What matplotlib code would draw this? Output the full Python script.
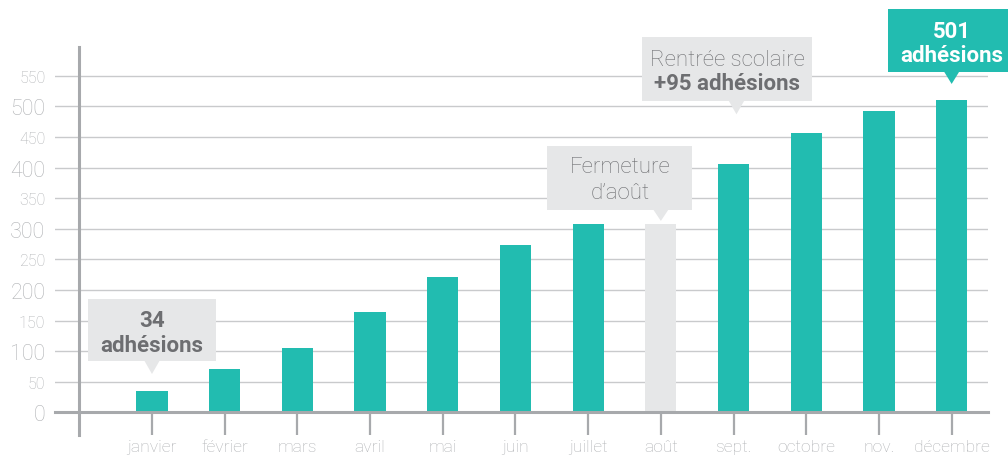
import numpy as np
import matplotlib.pyplot as plt
from matplotlib.patches import Rectangle, Polygon

# adhésions cumulées par mois
months = ['janvier', 'février', 'mars', 'avril', 'mai', 'juin', 'juillet',
          'août', 'sept.', 'octobre', 'nov.', 'décembre']
members = [34, 70, 105, 164, 221, 274, 307, 307, 405, 456, 493, 511]
closed_month = 'août'

yticks = [0, 50, 100, 150, 200, 250, 300, 350, 400, 450, 500, 550]

TEAL = '#22bcb0'
LIGHT = '#e6e7e8'
AXIS = '#a7a9ac'
GRID = '#c9cacc'
LABEL = '#b0b2b5'
DARK = '#6d6e71'

plt.rcParams['font.family'] = ['Roboto', 'DejaVu Sans']

fig = plt.figure(figsize=(10.08, 4.56), dpi=100)
W, H = 1008, 456
# axes: gauche 55 px, droite 988 px, y=0 a 413 px, haut a 48 px
ax = fig.add_axes([55 / W, (H - 413.3) / H, (988 - 55) / W, (413.3 - 48) / H])
ax.set_xlim(-1.334, 11.5)
ax.set_ylim(0, 597)

x = np.arange(len(months))
colors = [LIGHT if m == closed_month else TEAL for m in months]
ax.bar(x, members, width=0.43, color=colors, zorder=3)

# grille
ax.set_yticks(yticks)
ax.set_yticklabels([str(t) for t in yticks])
for t, lab in zip(yticks, ax.get_yticklabels()):
    lab.set_fontsize(15.5 if t % 100 == 0 else 11.5)
    lab.set_color(LABEL)
    lab.set_fontweight('light')
ax.tick_params(axis='y', length=0, pad=7)
ax.grid(axis='y', color=GRID, lw=1, zorder=0)

ax.set_xticks(x)
ax.set_xticklabels(months, fontsize=12.6, color=LABEL, fontweight='light')
ax.tick_params(axis='x', length=16.5, width=1.6, color=AXIS, pad=3)

for s in ax.spines.values():
    s.set_visible(False)

ax.axhline(0, color=AXIS, lw=2.2, zorder=4, clip_on=False)
ax.plot([-1, -1], [-37, 597], color=AXIS, lw=2.2, zorder=4, clip_on=False)

# conversion pixels -> unités de données
PX = (11.5 + 1.334) / (988 - 55)
PY = 597 / (413.3 - 48)


def callout(xc, y_apex, w, h, dx, fc, lines, gap=12):
    bottom = y_apex + gap * PY
    cx = xc + dx * PX
    ax.add_patch(Rectangle((cx - w / 2 * PX, bottom), w * PX, h * PY,
                           facecolor=fc, edgecolor='none', zorder=5, clip_on=False))
    ax.add_patch(Polygon([(xc - 8 * PX, bottom + 1 * PY), (xc + 8 * PX, bottom + 1 * PY),
                          (xc, y_apex)], closed=True, facecolor=fc,
                         edgecolor='none', zorder=5, clip_on=False))
    cy = bottom + h / 2 * PY
    for (txt, off, weight, color) in lines:
        ax.text(cx, cy - off * PY, txt, ha='center', va='center', fontsize=16,
                fontweight=weight, color=color, zorder=6, clip_on=False)


callout(0, 62.6, 128, 62, 0, LIGHT,
        [('34', -10, 'bold', DARK), ('adhésions', 15, 'bold', DARK)], gap=13)
callout(7, 312.7, 145, 64, -41, LIGHT,
        [('Fermeture', -11, 'light', DARK), ('d\u2019août', 14.5, 'light', DARK)], gap=11)
callout(8.04, 487, 170, 64, -9, LIGHT,
        [('Rentrée scolaire', -10, 'light', DARK), ('+95 adhésions', 14, 'bold', DARK)], gap=13)
callout(11, 536.6, 128, 63, 0, TEAL,
        [('501', -9.5, 'bold', 'white'), ('adhésions', 15, 'bold', 'white')], gap=12)

plt.savefig('out.png', dpi=100)
